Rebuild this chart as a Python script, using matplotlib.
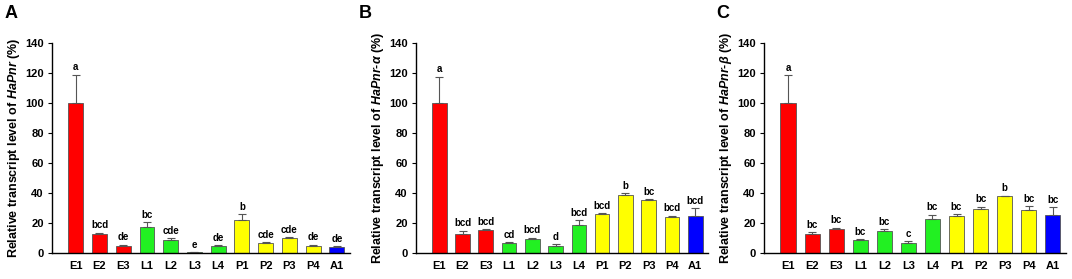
import matplotlib
matplotlib.use("Agg")
import matplotlib.pyplot as plt
import numpy as np

plt.rcParams["font.family"] = "Liberation Sans"
plt.rcParams["font.weight"] = "bold"
plt.rcParams["mathtext.fontset"] = "custom"
plt.rcParams["mathtext.rm"] = "Liberation Sans:bold"
plt.rcParams["mathtext.it"] = "Liberation Sans:bold:italic"
plt.rcParams["mathtext.bf"] = "Liberation Sans:bold"

stages = ["E1", "E2", "E3", "L1", "L2", "L3", "L4", "P1", "P2", "P3", "P4", "A1"]
colors = ["#ff0000"] * 3 + ["#22f022"] * 4 + ["#ffff00"] * 4 + ["#0000ff"]

pnr_mean = [100, 13, 5, 17.5, 9, 0.5, 5, 22, 7, 10, 5, 4]
pnr_err = [19, 0.5, 0.6, 3.2, 1.0, 0.2, 0.3, 4.0, 0.3, 0.8, 0.5, 0.4]
pnr_sig = ["a", "bcd", "de", "bc", "cde", "e", "de", "b", "cde", "cde", "de", "de"]

alpha_mean = [100, 13, 15.5, 7, 9.5, 5, 19, 26, 39, 35.5, 24, 25]
alpha_err = [17.5, 2.0, 0.5, 0.3, 0.7, 1.0, 2.8, 0.8, 1.0, 0.3, 1.0, 5.0]
alpha_sig = ["a", "bcd", "bcd", "cd", "bcd", "d", "bcd", "bcd", "b", "bc", "bcd", "bcd"]

beta_mean = [100, 12.5, 16, 9, 14.5, 6.5, 22.5, 25, 29.5, 38, 29, 25.5]
beta_err = [18.5, 1.5, 1.0, 0.3, 1.2, 1.5, 3.0, 1.0, 1.5, 0.3, 2.5, 5.2]
beta_sig = ["a", "bc", "bc", "bc", "bc", "c", "bc", "bc", "bc", "b", "bc", "bc"]

panels = [
    ("A", pnr_mean, pnr_err, pnr_sig, r"Relative transcript level of $\mathit{HaPnr}$ (%)"),
    ("B", alpha_mean, alpha_err, alpha_sig, r"Relative transcript level of $\mathit{HaPnr}$-$\mathit{α}$ (%)"),
    ("C", beta_mean, beta_err, beta_sig, r"Relative transcript level of $\mathit{HaPnr}$-$\mathit{β}$ (%)"),
]

# axes boxes in pixels (left, right) and panel letter x of a 1072x279 figure
boxes = [(52, 350, 5), (416, 708, 359), (764, 1066, 716)]
W, H = 1072, 279

fig = plt.figure(figsize=(W / 100, H / 100), dpi=100)

for (letter, mean, err, sig, ylab), (x0, x1, lx) in zip(panels, boxes):
    ax = fig.add_axes([x0 / W, (H - 253) / H, (x1 - x0) / W, (253 - 43) / H])
    x = np.arange(len(stages))
    ax.bar(x, mean, width=0.63, color=colors, edgecolor="#555555", linewidth=0.6,
           yerr=[np.zeros(len(err)), err], error_kw=dict(ecolor="#555555", elinewidth=0.8,
                                                          capsize=3, capthick=0.8))
    for xi, m, e, s in zip(x, mean, err, sig):
        ax.text(xi, m + e + 1.5, s, ha="center", va="bottom", fontsize=7, fontweight="bold")
    ax.set_xlim(-1.0, len(stages) - 0.45)
    ax.set_ylim(0, 140)
    ax.set_yticks(range(0, 141, 20))
    ax.set_xticks(x)
    ax.set_xticklabels(stages)
    ax.tick_params(labelsize=8, length=3, width=0.8, pad=3)
    ax.tick_params(axis="x", length=0, pad=6)
    for lbl in ax.get_xticklabels() + ax.get_yticklabels():
        lbl.set_fontweight("bold")
    ax.spines["top"].set_visible(False)
    ax.spines["right"].set_visible(False)
    ax.spines["left"].set_linewidth(1.0)
    ax.spines["bottom"].set_linewidth(1.0)
    ax.set_ylabel(ylab, fontsize=9, fontweight="bold", labelpad=2)
    fig.text(lx / W, 1 - 14 / H, letter, fontsize=13, fontweight="bold", ha="left", va="center")

fig.savefig("out.png", dpi=100)
